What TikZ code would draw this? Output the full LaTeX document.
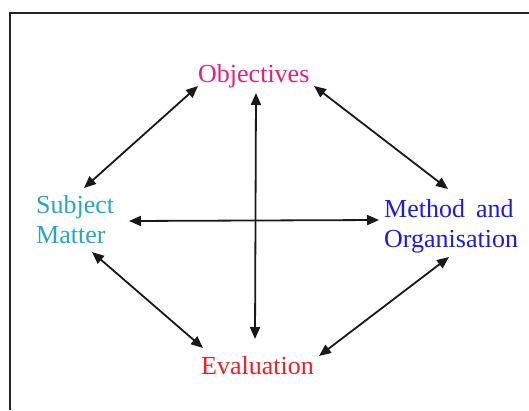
\documentclass[tikz,border=0pt]{standalone}
\usepackage{fontspec}
\setmainfont{Liberation Serif}
\usetikzlibrary{arrows.meta}
\definecolor{objcol}{RGB}{232,30,125}
\definecolor{subjcol}{RGB}{35,165,205}
\definecolor{methcol}{RGB}{25,25,240}
\definecolor{evalcol}{RGB}{240,30,35}
\tikzset{
  lbl/.style={inner sep=0pt, anchor=base west, font=\fontsize{26}{30}\selectfont},
  dbl/.style={line width=1.8pt, draw=black!90, {Triangle[length=12pt,width=10pt]}-{Triangle[length=12pt,width=10pt]}},
  frame/.style={line width=2pt, draw=black!85}
}
\begin{document}
\begin{tikzpicture}[x=1pt,y=-1pt]
\useasboundingbox (0,0) rectangle (529,410);
\draw[frame] (10,410) -- (10,13) -- (529,13);
\node[lbl, text=objcol] (obj) at (198,82) {Objectives};
\node[lbl, text=subjcol] (subj) at (36,213) {Subject};
\node[lbl, text=subjcol] (subj2) at (36,243) {Matter};
\node[lbl, text=methcol] (meth) at (384,217) {Method\hskip 11pt and};
\node[lbl, text=methcol] (meth2) at (384,247) {Organisation};
\node[lbl, text=evalcol] (eval) at (201,374) {Evaluation};
\coordinate (os) at (198,86);
\coordinate (so) at (84,188);
\coordinate (om) at (314,86);
\coordinate (mo) at (448,189);
\coordinate (se) at (92,252);
\coordinate (es) at (203,348);
\coordinate (me) at (449,257);
\coordinate (em) at (319,356);
\coordinate (vt) at (256,93);
\coordinate (vb) at (255,339);
\coordinate (hl) at (129,221);
\coordinate (hr) at (379,220);
\draw[dbl] (so) -- (os);
\draw[dbl] (om) -- (mo);
\draw[dbl] (se) -- (es);
\draw[dbl] (em) -- (me);
\draw[dbl] (vt) -- (vb);
\draw[dbl] (hl) -- (hr);
\end{tikzpicture}
\end{document}
